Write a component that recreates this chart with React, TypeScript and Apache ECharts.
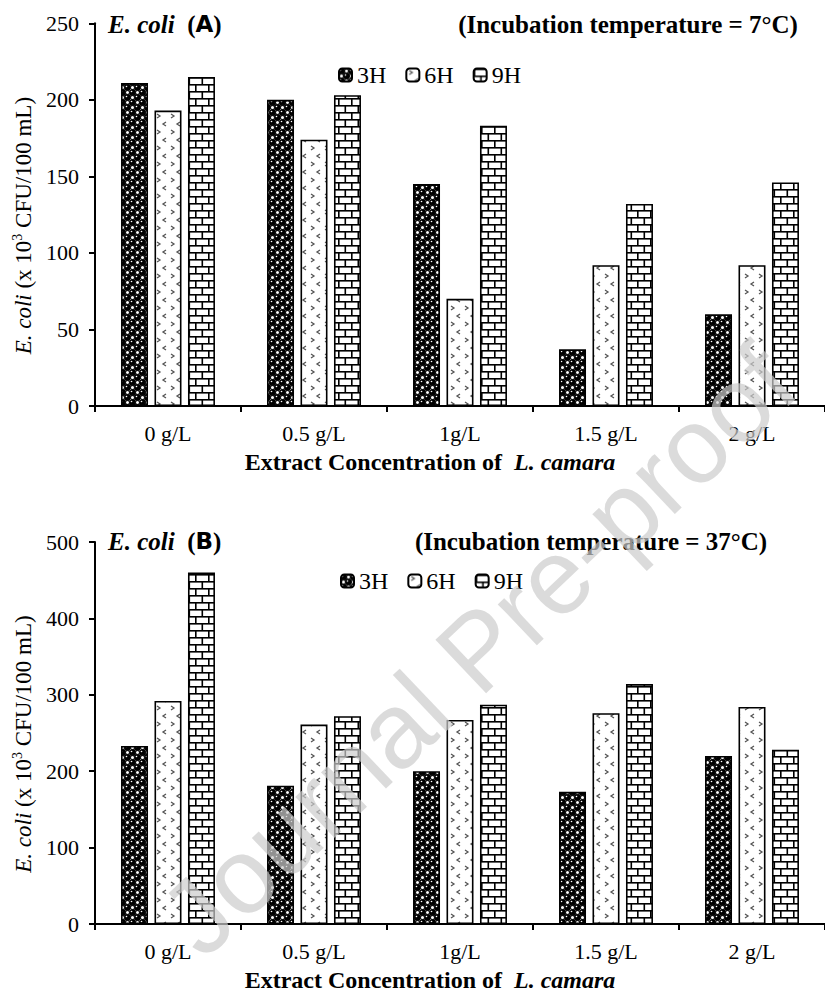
import React, { useEffect, useRef } from 'react';
import * as echarts from 'echarts';

const categories = ['0 g/L', '0.5 g/L', '1g/L', '1.5 g/L', '2 g/L'];
const seriesNames = ['3H', '6H', '9H'];
// Panel A (7°C)
const a3H = [211, 200, 145, 37, 60];
const a6H = [193, 174, 70, 92, 92];
const a9H = [215, 203, 183, 132, 146];
// Panel B (37°C)
const b3H = [233, 181, 200, 173, 220];
const b6H = [292, 261, 267, 276, 284];
const b9H = [460, 272, 287, 314, 228];

const titleA = '(Incubation temperature = 7°C)';
const titleB = '(Incubation temperature = 37°C)';
const xTitle = 'Extract Concentration of  ';
const xTitleItalic = 'L. camara';

const SERIF = '"Liberation Serif", "Times New Roman", serif';

function makeCanvas(w: number, h: number, draw: (ctx: CanvasRenderingContext2D) => void) {
  const c = document.createElement('canvas');
  c.width = w;
  c.height = h;
  const ctx = c.getContext('2d') as CanvasRenderingContext2D;
  ctx.fillStyle = '#fff';
  ctx.fillRect(0, 0, w, h);
  draw(ctx);
  return { image: c.toDataURL(), repeat: 'repeat', imageWidth: w, imageHeight: h } as any;
}

function patterns() {
  const balls = makeCanvas(10, 10, (ctx) => {
    ctx.fillStyle = '#000';
    const big = [[2.5, 2.5], [7.5, 7.5]];
    big.forEach(([x, y]) => {
      ctx.beginPath();
      ctx.arc(x, y, 3.5, 0, Math.PI * 2);
      ctx.fill();
    });
    ctx.strokeStyle = '#111';
    ctx.lineWidth = 1.4;
    [[7.5, 2.5], [2.5, 7.5]].forEach(([x, y]) => {
      ctx.beginPath();
      ctx.arc(x, y, 2.2, 0, Math.PI * 2);
      ctx.stroke();
    });
    ctx.fillStyle = '#fff';
    big.forEach(([x, y]) => {
      ctx.beginPath();
      ctx.arc(x - 1, y - 1, 0.8, 0, Math.PI * 2);
      ctx.fill();
    });
  });
  const chevrons = makeCanvas(14, 16, (ctx) => {
    ctx.strokeStyle = '#555';
    ctx.lineWidth = 1.3;
    ctx.beginPath();
    ctx.moveTo(3, 2); ctx.lineTo(6, 4); ctx.lineTo(3, 6);
    ctx.moveTo(12, 10); ctx.lineTo(9, 12); ctx.lineTo(12, 14);
    ctx.stroke();
  });
  const bricks = makeCanvas(26, 14, (ctx) => {
    ctx.fillStyle = '#000';
    ctx.fillRect(0, 0, 26, 1.6);
    ctx.fillRect(0, 7, 26, 1.6);
    ctx.fillRect(0, 0, 1.6, 7);
    ctx.fillRect(13, 0, 1.6, 7);
    ctx.fillRect(6.5, 7, 1.6, 7);
    ctx.fillRect(19.5, 7, 1.6, 7);
  });
  return [balls, chevrons, bricks];
}

export default function App() {
  const ref = useRef<HTMLDivElement>(null);
  useEffect(() => {
    if (!ref.current) return;
    const chart = echarts.init(ref.current, null, { renderer: 'svg' });
    const pats = patterns();
    const dataA = [a3H, a6H, a9H];
    const dataB = [b3H, b6H, b9H];

    const mkSeries = (vals: number[], i: number, axis: number) => ({
      type: 'bar',
      name: seriesNames[i],
      xAxisIndex: axis,
      yAxisIndex: axis,
      data: vals,
      barWidth: 27,
      barGap: '24%',
      itemStyle: { color: pats[i], borderColor: '#000', borderWidth: 1.6 },
      emphasis: { disabled: true },
    });

    const xAxisCommon = {
      type: 'category',
      data: categories,
      axisLine: { lineStyle: { color: '#000', width: 2 } },
      axisTick: { show: true, length: 6, lineStyle: { color: '#000', width: 2 } },
      axisLabel: { fontFamily: SERIF, fontSize: 22, color: '#000', margin: 16 },
    };
    const yAxisCommon = {
      type: 'value',
      min: 0,
      splitLine: { show: false },
      axisLine: { show: true, lineStyle: { color: '#000', width: 2 } },
      axisTick: { show: true, length: 6, lineStyle: { color: '#000', width: 2 } },
      axisLabel: { fontFamily: SERIF, fontSize: 22, color: '#000', margin: 16 },
    };

    const titleRich = {
      i: { fontFamily: SERIF, fontSize: 25, fontWeight: 'bold', fontStyle: 'italic', fill: '#000' },
      p: { fontFamily: SERIF, fontSize: 25, fontWeight: 'bold', fill: '#000' },
      s: { fontFamily: '"DejaVu Sans", sans-serif', fontSize: 23, fontWeight: 'bold', fill: '#000' },
    };
    const yNameRich = {
      i: { fontFamily: SERIF, fontSize: 23, fontStyle: 'italic', fill: '#000', lineHeight: 26 },
      n: { fontFamily: SERIF, fontSize: 23, fill: '#000', lineHeight: 26 },
      sup: { fontFamily: SERIF, fontSize: 14, fill: '#000', lineHeight: 14, verticalAlign: 'top' },
    };
    const xNameRich = {
      b: { fontFamily: SERIF, fontSize: 24, fontWeight: 'bold', fill: '#000' },
      bi: { fontFamily: SERIF, fontSize: 24, fontWeight: 'bold', fontStyle: 'italic', fill: '#000' },
    };

    const panelTexts = (letter: string, title: string, yTop: number, yAxisTop: number, yAxisBottom: number, titleX: number, xAxisY: number) => [
      {
        type: 'text', x: 108, y: yTop, z: 10,
        style: { text: `{i|E. coli  }{p|(}{s|${letter}}{p|)}`, rich: titleRich, verticalAlign: 'middle', align: 'left' },
      },
      {
        type: 'text', x: titleX, y: yTop, z: 10,
        style: { text: title, fontFamily: SERIF, fontSize: 25, fontWeight: 'bold', fill: '#000', align: 'center', verticalAlign: 'middle' },
      },
      {
        type: 'text', x: 23, y: (yAxisTop + yAxisBottom) / 2 + 11, rotation: Math.PI / 2, z: 10,
        style: {
          text: '{i|E. coli}{n| (x 10}{sup|3}{n| CFU/100 mL)}',
          rich: yNameRich, align: 'center', verticalAlign: 'middle',
        },
      },
      {
        type: 'text', x: 430, y: xAxisY + 56, z: 10,
        style: { text: `{b|${xTitle}}{bi|${xTitleItalic}}`, rich: xNameRich, align: 'center', verticalAlign: 'middle' },
      },
    ];

    chart.setOption({
      animation: false,
      backgroundColor: '#fff',
      grid: [
        { left: 95, top: 23.3, width: 736, height: 382.7 },
        { left: 95, top: 542, width: 736, height: 382 },
      ],
      legend: [
        {
          data: seriesNames, left: 333, top: 58, itemWidth: 13, itemHeight: 13, itemGap: 19,
          textStyle: { fontFamily: SERIF, fontSize: 24, color: '#000' }, selectedMode: false,
        },
        {
          data: seriesNames, left: 335, top: 564, itemWidth: 13, itemHeight: 13, itemGap: 19,
          textStyle: { fontFamily: SERIF, fontSize: 24, color: '#000' }, selectedMode: false,
        },
      ],
      xAxis: [
        { ...xAxisCommon, gridIndex: 0 },
        { ...xAxisCommon, gridIndex: 1 },
      ],
      yAxis: [
        { ...yAxisCommon, gridIndex: 0, max: 250, interval: 50 },
        { ...yAxisCommon, gridIndex: 1, max: 500, interval: 100 },
      ],
      series: [
        ...dataA.map((v, i) => mkSeries(v, i, 0)),
        ...dataB.map((v, i) => mkSeries(v, i, 1)),
      ],
      graphic: [
        ...panelTexts('A', titleA, 24, 23.3, 406, 628, 406),
        ...panelTexts('B', titleB, 541, 542, 924, 591, 924),
        {
          type: 'text', x: 478, y: 650, rotation: 0.76, z: 100, silent: true,
          style: {
            text: 'Journal Pre-proof', fontFamily: '"Liberation Sans", Arial, sans-serif', fontSize: 107,
            fill: '#cccccc', opacity: 0.7, align: 'center', verticalAlign: 'middle',
          },
        },
      ],
    });
    return () => chart.dispose();
  }, []);
  return <div ref={ref} style={{ position: 'absolute', left: 0, top: 0, width: 825, height: 996 }} />;
}
